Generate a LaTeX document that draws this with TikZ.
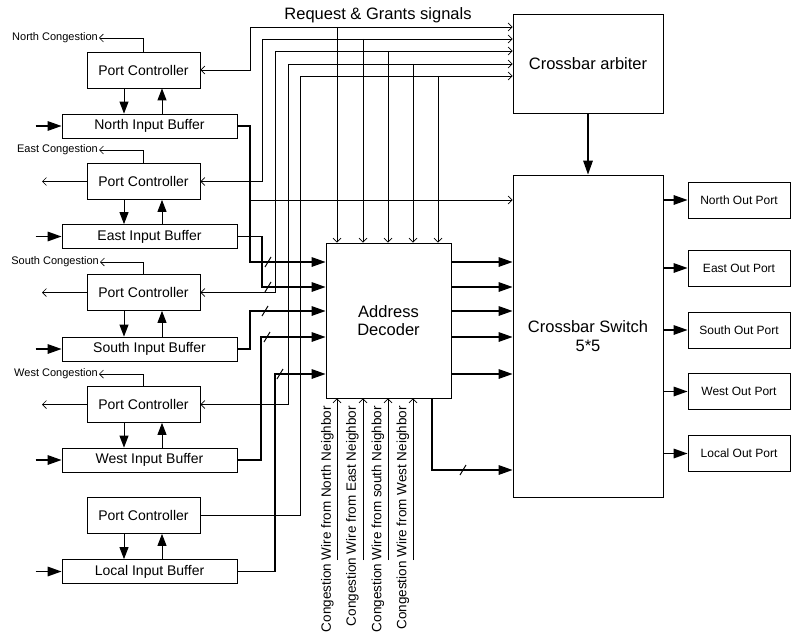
\documentclass[tikz,border=0pt]{standalone}
\usepackage{fontspec}
\setmainfont{Liberation Sans}
\usetikzlibrary{arrows.meta,calc}
\begin{document}
\begin{tikzpicture}[x=1pt,y=-1pt,
  boxbase/.style={draw, line width=0.8pt, fill=white, inner sep=0pt, align=center},
  pcbox/.style={boxbase, minimum width=113pt, minimum height=36pt, font=\fontsize{14}{16}\selectfont},
  bufbox/.style={boxbase, minimum width=175pt, minimum height=24pt, font=\fontsize{14}{16}\selectfont},
  portbox/.style={boxbase, minimum width=102pt, minimum height=36pt, font=\fontsize{12}{14}\selectfont},
  bigfont/.style={font=\fontsize{16.5}{18.5}\selectfont},
  conglabel/.style={anchor=east, inner sep=1pt, font=\fontsize{11}{13}\selectfont},
  wirelabel/.style={rotate=90, anchor=east, inner sep=0pt, font=\fontsize{13.5}{15}\selectfont},
  thinln/.style={line width=0.7pt},
  dataln/.style={line width=1.6pt},
  midln/.style={line width=1pt},
  oa/.style={-{Straight Barb[length=4pt,width=8pt]}},
  oaa/.style={{Straight Barb[length=4pt,width=8pt]}-{Straight Barb[length=4pt,width=8pt]}},
  fa/.style={-{Triangle[length=14pt,width=9.5pt]}},
  fs/.style={-{Triangle[length=12pt,width=9pt]}},
  slashmk/.style={line width=1pt}
]
\useasboundingbox (0,0) rectangle (791,639);

% ---------- left column ----------
\node[pcbox] (pcN) at (143.5,70) {Port Controller};
\node[bufbox] (bufN) at (149.5,126) {North Input Buffer};
\node[pcbox] (pcE) at (143.5,181.5) {Port Controller};
\node[bufbox] (bufE) at (149.5,236.5) {East Input Buffer};
\node[pcbox] (pcS) at (143.5,292.5) {Port Controller};
\node[bufbox] (bufS) at (149.5,349) {South Input Buffer};
\node[pcbox] (pcW) at (143.5,404.5) {Port Controller};
\node[bufbox] (bufW) at (149.5,460) {West Input Buffer};
\node[pcbox] (pcL) at (143.5,515.5) {Port Controller};
\node[bufbox] (bufL) at (149.5,571.5) {Local Input Buffer};

% congestion labels
\node[conglabel] (congN) at (99,38) {North Congestion};
\node[conglabel] (congE) at (99,150) {East Congestion};
\node[conglabel] (congS) at (100,262) {South Congestion};
\node[conglabel] (congW) at (99,374) {West Congestion};
\draw[thinln,oa] (pcN.north) |- (congN.east);
\draw[thinln,oa] (pcE.north) |- (congE.east);
\draw[thinln,oa] (pcS.north) |- (congS.east);
\draw[thinln,oa] (pcW.north) |- (congW.east);

% left outputs of port controllers
\coordinate (lE) at (42,181.5);
\coordinate (lS) at (42,292.5);
\coordinate (lW) at (42,404.5);
\draw[thinln,oa] (pcE.west) -- (lE);
\draw[thinln,oa] (pcS.west) -- (lS);
\draw[thinln,oa] (pcW.west) -- (lW);

% input arrows into buffers
\foreach \b in {bufN,bufE,bufS,bufW,bufL}{
  \coordinate (in\b) at ([xshift=-26pt]\b.west);
  \draw[dataln,fa] (in\b) -- (\b.west);
}

% PC <-> buffer arrows
\foreach \p/\b in {pcN/bufN,pcE/bufE,pcS/bufS,pcW/bufW,pcL/bufL}{
  \draw[midln,fs] ([xshift=-19.5pt]\p.south) -- ([xshift=-19.5pt]\p.south |- \b.north);
  \draw[midln,fs] ([xshift=18.5pt]\p.south |- \b.north) -- ([xshift=18.5pt]\p.south);
}

% ---------- central / right blocks ----------
\node[boxbase, bigfont, minimum width=150pt, minimum height=99pt] (arb) at (588,63.5) {Crossbar arbiter};
\node[boxbase, bigfont, minimum width=150pt, minimum height=322pt] (sw) at (588,336) {Crossbar Switch\\5*5};
\node[boxbase, bigfont, minimum width=125pt, minimum height=155pt] (dec) at (388.5,320.5) {Address\\Decoder};
\node[bigfont, inner sep=0pt] (title) at (378,15) {Request \& Grants signals};

\node[portbox] (opN) at (739,200) {North Out Port};
\node[portbox] (opE) at (739,268) {East Out Port};
\node[portbox] (opS) at (739,330) {South Out Port};
\node[portbox] (opW) at (739,391.5) {West Out Port};
\node[portbox] (opL) at (739,453.5) {Local Out Port};
\foreach \o in {opN,opE,opS,opW,opL}{
  \draw[dataln,fa] (sw.east |- \o) -- (\o.west);
}

\draw[dataln,fa] (arb.south) -- (sw.north);

% ---------- request & grant lines ----------
\coordinate (r1) at (250,27);
\coordinate (r2) at (262,39);
\coordinate (r3) at (275,51);
\coordinate (r4) at (288,64);
\coordinate (r5) at (300,76);
\draw[thinln,oaa] (pcN.east) -| (r1) -- (r1 -| arb.west);
\draw[thinln,oaa] (pcE.east) -| (r2) -- (r2 -| arb.west);
\draw[thinln,oaa] (pcS.east) -| (r3) -- (r3 -| arb.west);
\draw[thinln,oaa] (pcW.east) -| (r4) -- (r4 -| arb.west);
\draw[thinln,oa] (pcL.east) -| (r5) -- (r5 -| arb.west);

\coordinate (d1) at (337,27);
\coordinate (d2) at (363,39);
\coordinate (d3) at (388,51);
\coordinate (d4) at (413,64);
\coordinate (d5) at (438,76);
\foreach \d in {d1,d2,d3,d4,d5}{
  \draw[thinln,oa] (\d) -- (\d |- dec.north);
}

% branch to crossbar switch
\coordinate (b1) at (250,200);
\draw[thinln,oa] (b1) -- (b1 -| sw.west);

% ---------- data lines buffers -> decoder ----------
\coordinate (k1) at (250,262);
\coordinate (k2) at (262,287);
\coordinate (k3) at (250,311);
\coordinate (k4) at (261,337);
\coordinate (k5) at (275,374);
\draw[dataln,fa] (bufN.east) -| (k1) -- (k1 -| dec.west);
\draw[dataln,fa] (bufE.east) -| (k2) -- (k2 -| dec.west);
\draw[dataln,fa] (bufS.east) -| (k3) -- (k3 -| dec.west);
\draw[dataln,fa] (bufW.east) -| (k4) -- (k4 -| dec.west);
\draw[dataln,fa] (bufL.east) -| (k5) -- (k5 -| dec.west);

% slash marks
\draw[slashmk] ([shift={(15,5)}]k1) -- ([shift={(21,-5)}]k1);
\draw[slashmk] ([shift={(3,5)}]k2) -- ([shift={(9,-5)}]k2);
\draw[slashmk] ([shift={(12,5)}]k3) -- ([shift={(18,-5)}]k3);
\draw[slashmk] ([shift={(3,5)}]k4) -- ([shift={(9,-5)}]k4);
\draw[slashmk] ([shift={(2,5)}]k5) -- ([shift={(8,-5)}]k5);

% decoder -> switch
\foreach \k in {k1,k2,k3,k4,k5}{
  \draw[dataln,fa] (dec.east |- \k) -- (sw.west |- \k);
}
\coordinate (k6) at (432,470);
\draw[dataln,fa] (k6 |- dec.south) -- (k6) -- (k6 -| sw.west);
\draw[slashmk] ([shift={(28,5)}]k6) -- ([shift={(34,-5)}]k6);

% ---------- congestion wires from neighbours ----------
\coordinate (cw1) at (337,560);
\coordinate (cw2) at (363,560);
\coordinate (cw3) at (388,560);
\coordinate (cw4) at (413,560);
\foreach \c in {cw1,cw2,cw3,cw4}{
  \draw[thinln,oa] (\c) -- (\c |- dec.south);
}
\node[wirelabel] (wl1) at (327.5,406) {Congestion Wire from North Neighbor};
\node[wirelabel] (wl2) at (352.5,406) {Congestion Wire from East Neighbor};
\node[wirelabel] (wl3) at (378,406) {Congestion Wire from south Neighbor};
\node[wirelabel] (wl4) at (403,406) {Congestion Wire from West Neighbor};
\end{tikzpicture}
\end{document}
